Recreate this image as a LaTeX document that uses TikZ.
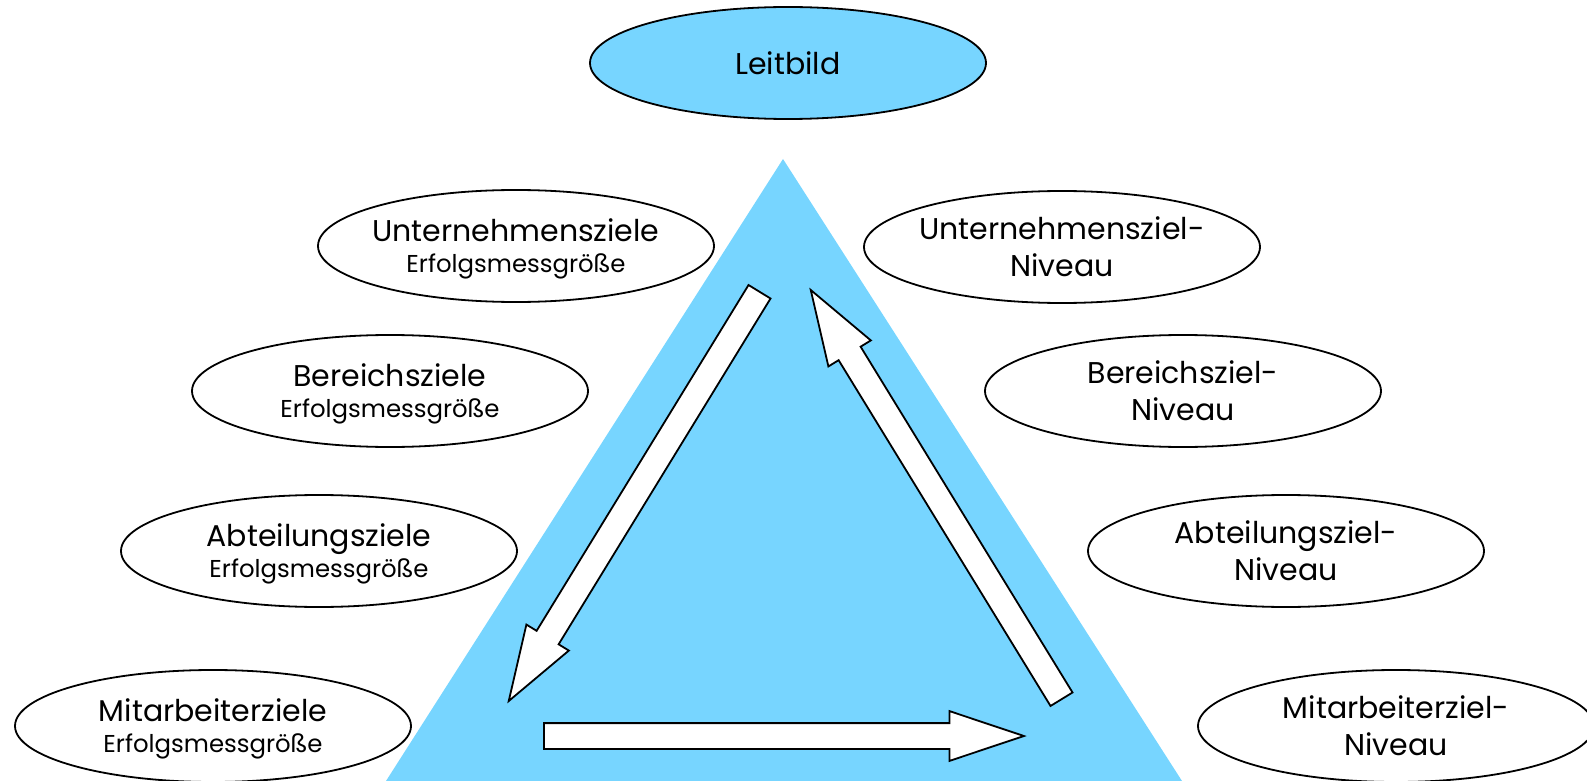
\documentclass[tikz,border=0pt]{standalone}
\usepackage{fontspec}
\setmainfont{Poppins}
\usetikzlibrary{shapes.geometric}
\usetikzlibrary{shapes.arrows}
\usetikzlibrary{positioning}

\definecolor{himmel}{RGB}{119,213,255}
\newcommand{\messgr}{{\fontsize{12.2}{14}\selectfont Erfolgsmessgröße}}

\begin{document}
\begin{tikzpicture}[x=0.5pt, y=-0.5pt, line width=0.9pt]
		 \tikzstyle{ziel} = [ellipse, draw, fill=white, minimum width=198pt, minimum height=56pt, inner xsep=-20pt, inner ysep=-5pt, align=center, font=\fontsize{15}{18.5}\selectfont];
		 \tikzstyle{messziel} = [ziel, text depth=-6.5pt];
		 \tikzstyle{pfeil} = [single arrow, draw, fill=white, anchor=tail, minimum height=240pt, inner sep=6pt, single arrow head extend=6pt, single arrow tip angle=37];

		 \useasboundingbox (0,0) rectangle (1587,781);

		 % Dreieck
		 \coordinate (spitze) at (783,159);
		 \coordinate (links)  at (386,781);
		 \coordinate (rechts) at (1182,781);
		 \fill [himmel] (spitze) -- (links) -- (rechts) -- cycle;

		 \node [ziel, fill=himmel] (leitbild) at (788,63) {Leitbild};

		 % Pfeile im Dreieck
		 \node [pfeil, rotate=238.5] (runter) at (760,291) {};
		 \node [pfeil, rotate=121.5] (hoch)   at (1062,700) {};
		 \node [pfeil]               (quer)   at (543,736) {};

		 % Ziele links
		 \node [messziel] (u_ziel) at (516,246) {Unternehmensziele\\[-3pt]\messgr};
		 \node [messziel] (b_ziel) at (390,391) {Bereichsziele\\[-3pt]\messgr};
		 \node [messziel] (a_ziel) at (319,551) {Abteilungsziele\\[-3pt]\messgr};
		 \node [messziel] (m_ziel) at (213,726) {Mitarbeiterziele\\[-3pt]\messgr};

		 % Niveaus rechts
		 \node [ziel] (u_niveau) at (1062,247) {Unternehmensziel-\\Niveau};
		 \node [ziel] (b_niveau) at (1183,391) {Bereichsziel-\\Niveau};
		 \node [ziel] (a_niveau) at (1286,551) {Abteilungsziel-\\Niveau};
		 \node [ziel] (m_niveau) at (1396,726) {Mitarbeiterziel-\\Niveau};
	\end{tikzpicture}
\end{document}
